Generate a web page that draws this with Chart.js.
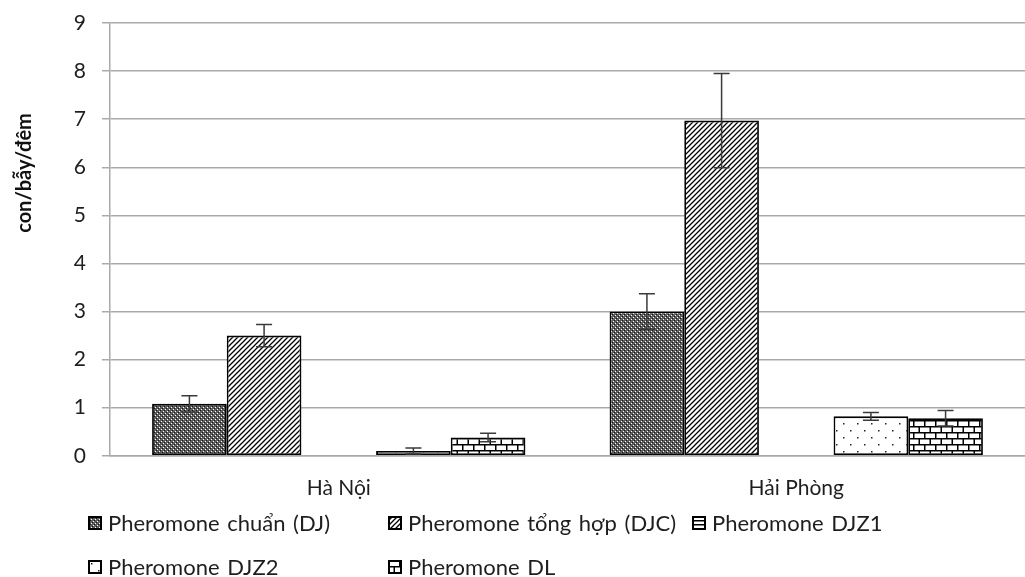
<!DOCTYPE html>
<html>
<head>
<meta charset="utf-8">
<script src="https://cdn.jsdelivr.net/npm/chart.js@4"></script>
<style>
    html, body { margin: 0; padding: 0; background: #fff; }
    body { width: 1025px; height: 577px; position: relative; overflow: hidden; font-family: Lato, sans-serif; }
    #wrap { position: absolute; left: 0; top: 0; width: 1025px; height: 513px; }
    .legend { position: absolute; left: 0; top: 0; width: 1025px; height: 577px; pointer-events: none; }
    .item { position: absolute; display: flex; align-items: center; font-size: 22px; color: #1e1e1e; white-space: nowrap; word-spacing: 2px; }
    .item canvas { margin-right: 6px; }
</style>
</head>
<body>
<div id="wrap"><canvas id="chart"></canvas></div>
<div class="legend" id="legend"></div>
<script>
// Bẫy pheromone - số con/bẫy/đêm theo địa điểm

const categories = ['Hà Nội', 'Hải Phòng'];
const seriesNames = ['Pheromone chuẩn (DJ)', 'Pheromone tổng hợp (DJC)', 'Pheromone DJZ1', 'Pheromone DJZ2', 'Pheromone DL'];

const djValues = [1.08, 3.0];
const djcValues = [2.5, 6.97];
const djz1Values = [0, 0];
const djz2Values = [0.1, 0.82];
const dlValues = [0.38, 0.78];

const djErr = [0.17, 0.37];
const djcErr = [0.23, 0.98];
const djz1Err = [null, null];
const djz2Err = [0.06, 0.08];
const dlErr = [0.09, 0.16];

const yTicks = [0, 1, 2, 3, 4, 5, 6, 7, 8, 9];

// small helper to build fill patterns
function makePattern(w, h, draw) {
    const c = document.createElement('canvas');
    c.width = w; c.height = h;
    const g = c.getContext('2d');
    draw(g, w, h);
    return g.createPattern(c, 'repeat');
}

const patterns = [
    // dark confetti
    makePattern(4, 4, (g) => {
        g.fillStyle = '#5e5e5e'; g.fillRect(0, 0, 4, 4);
        g.fillStyle = '#ffffff'; g.fillRect(1, 1, 1, 1); g.fillRect(3, 3, 1, 1);
        g.fillStyle = '#111111'; g.fillRect(0, 2, 1, 1); g.fillRect(2, 0, 1, 1);
    }),
    // wide upward diagonal
    makePattern(5, 5, (g) => {
        g.fillStyle = '#fff'; g.fillRect(0, 0, 5, 5);
        g.strokeStyle = '#000'; g.lineWidth = 1.3;
        g.beginPath();
        g.moveTo(-1, 6); g.lineTo(6, -1);
        g.moveTo(-1, 1); g.lineTo(1, -1);
        g.moveTo(4, 6); g.lineTo(6, 4);
        g.stroke();
    }),
    // horizontal lines
    makePattern(4, 4, (g) => {
        g.fillStyle = '#fff'; g.fillRect(0, 0, 4, 4);
        g.fillStyle = '#000'; g.fillRect(0, 0, 4, 1.5);
    }),
    // sparse dots
    makePattern(14, 14, (g) => {
        g.fillStyle = '#fff'; g.fillRect(0, 0, 14, 14);
        g.fillStyle = '#222'; g.fillRect(3, 3, 1.5, 1.5); g.fillRect(10, 10, 1.5, 1.5);
    }),
    // bricks
    makePattern(11, 12, (g) => {
        g.fillStyle = '#fff'; g.fillRect(0, 0, 11, 12);
        g.fillStyle = '#000';
        g.fillRect(0, 0, 11, 1.5); g.fillRect(0, 6, 11, 1.5);
        g.fillRect(0, 0, 1.5, 6); g.fillRect(5.5, 6, 1.5, 6);
    })
];

const valueSets = [djValues, djcValues, djz1Values, djz2Values, dlValues];
const errSets = [djErr, djcErr, djz1Err, djz2Err, dlErr];

const datasets = seriesNames.map((name, i) => ({
    label: name,
    data: valueSets[i],
    errors: errSets[i],
    backgroundColor: patterns[i],
    borderColor: '#000',
    borderWidth: 1.8,
    borderSkipped: false,
    categoryPercentage: 0.816,
    barPercentage: 1.0
}));

// error bars drawn from the y scale
const errorBars = {
    id: 'errorBars',
    afterDatasetsDraw(chart) {
        const ctx = chart.ctx;
        const y = chart.scales.y;
        ctx.save();
        ctx.strokeStyle = '#3a3a3a';
        ctx.lineWidth = 1.5;
        chart.data.datasets.forEach((ds, di) => {
            const meta = chart.getDatasetMeta(di);
            meta.data.forEach((bar, i) => {
                const e = ds.errors[i];
                if (e == null) return;
                const v = ds.data[i];
                const yt = y.getPixelForValue(v + e);
                const yb = y.getPixelForValue(v - e);
                const cap = 8;
                ctx.beginPath();
                ctx.moveTo(bar.x, yt); ctx.lineTo(bar.x, yb);
                ctx.moveTo(bar.x - cap, yt); ctx.lineTo(bar.x + cap, yt);
                ctx.moveTo(bar.x - cap, yb); ctx.lineTo(bar.x + cap, yb);
                ctx.stroke();
            });
        });
        ctx.restore();
    }
};

// rotated y title placed like the original
const yTitle = {
    id: 'yTitle',
    afterDraw(chart) {
        const ctx = chart.ctx;
        ctx.save();
        ctx.translate(25, 173);
        ctx.rotate(-Math.PI / 2);
        ctx.font = 'bold 20px Lato';
        ctx.fillStyle = '#111';
        ctx.textAlign = 'center';
        ctx.textBaseline = 'middle';
        ctx.fillText('con/bẫy/đêm', 0, 0);
        ctx.restore();
    }
};

new Chart(document.getElementById('chart'), {
    type: 'bar',
    data: { labels: categories, datasets: datasets },
    options: {
        responsive: true,
        maintainAspectRatio: false,
        animation: false,
        layout: { padding: { top: 23, right: 0, left: 0, bottom: 0 } },
        plugins: {
            legend: { display: false },
            tooltip: { enabled: false }
        },
        scales: {
            x: {
                grid: { display: false },
                border: { display: true, color: '#aaa', width: 1.5 },
                ticks: { font: { family: 'Lato', size: 21 }, color: '#1e1e1e', padding: 12 }
            },
            y: {
                min: 0,
                max: 9,
                afterBuildTicks: (scale) => { scale.ticks = yTicks.map(v => ({ value: v })); },
                afterFit: (scale) => { scale.width = 110; scale.paddingTop = 0; scale.paddingBottom = 0; },
                grid: { color: '#aaa', lineWidth: 1.5, tickLength: 8 },
                border: { color: '#aaa', width: 1.5 },
                ticks: { font: { family: 'Lato', size: 21 }, color: '#1e1e1e', padding: 16 }
            }
        }
    },
    plugins: [errorBars, yTitle]
});

// legend laid out in columns like the source
const legendPos = [[88, 523], [388, 523], [692, 523], [88, 567], [388, 567]];
const legend = document.getElementById('legend');
seriesNames.forEach((name, i) => {
    const item = document.createElement('div');
    item.className = 'item';
    item.style.left = legendPos[i][0] + 'px';
    item.style.top = (legendPos[i][1] - 14) + 'px';
    const sw = document.createElement('canvas');
    sw.width = 14; sw.height = 14;
    const g = sw.getContext('2d');
    g.fillStyle = patterns[i]; g.fillRect(0, 0, 14, 14);
    g.strokeStyle = '#000'; g.lineWidth = 2; g.strokeRect(1, 1, 12, 12);
    item.appendChild(sw);
    const t = document.createElement('span');
    t.textContent = name;
    item.appendChild(t);
    legend.appendChild(item);
});
</script>
</body>
</html>
